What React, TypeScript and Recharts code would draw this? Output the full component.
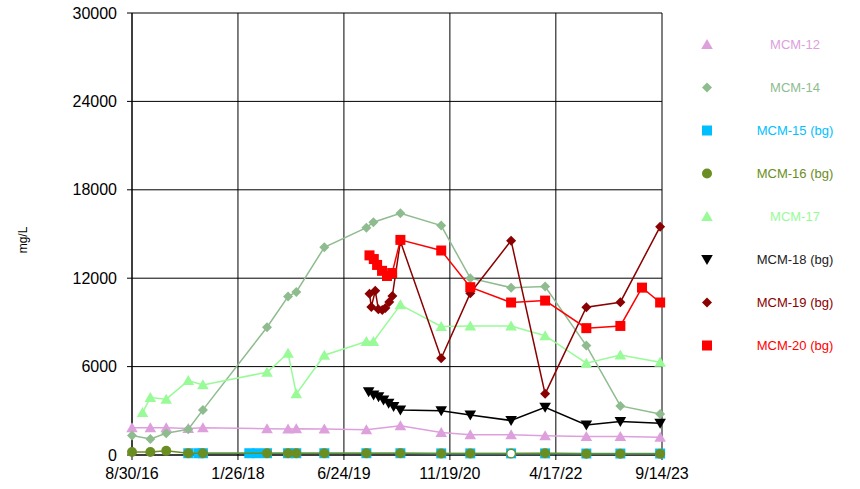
import { ScatterChart, Scatter, XAxis, YAxis, CartesianGrid, Legend } from 'recharts'

const xTickLabels = ['8/30/16', '1/26/18', '6/24/19', '11/19/20', '4/17/22', '9/14/23']
const yTicks = [0, 6000, 12000, 18000, 24000, 30000]

const mcm12Dates = ['8/30/16', '11/27/16', '2/12/17', '5/30/17', '8/9/17', '6/16/18', '9/26/18', '11/5/18', '3/21/19', '10/11/19', '3/24/20', '10/8/20', '2/26/21', '9/12/21', '2/24/22', '9/12/22', '2/24/23', '9/5/23']
const mcm12 = [1850, 1850, 1850, 1800, 1850, 1780, 1760, 1780, 1760, 1720, 1980, 1520, 1370, 1370, 1300, 1250, 1250, 1200]

const mcm14Dates = ['8/30/16', '11/27/16', '2/12/17', '5/30/17', '8/9/17', '6/16/18', '9/26/18', '11/5/18', '3/21/19', '10/11/19', '11/14/19', '3/24/20', '10/8/20', '2/26/21', '9/12/21', '2/24/22', '9/12/22', '2/24/23', '9/5/23']
const mcm14 = [1320, 1090, 1480, 1750, 3060, 8670, 10750, 11070, 14100, 15430, 15800, 16410, 15570, 12000, 11360, 11430, 7430, 3330, 2790]

const mcm15Dates = ['5/30/17', '7/18/17', '8/9/17', '3/22/18', '4/30/18', '6/16/18', '9/26/18', '11/5/18', '3/21/19', '10/11/19', '3/24/20', '10/8/20', '2/26/21', '9/12/21', '2/24/22', '9/12/22', '2/24/23', '9/5/23']
const mcm15 = [120, 120, 120, 120, 120, 120, 120, 120, 120, 120, 120, 110, 110, 110, 110, 100, 100, 100]

const mcm16Dates = ['8/30/16', '11/27/16', '2/12/17', '5/30/17', '8/9/17', '6/16/18', '9/26/18', '11/5/18', '3/21/19', '10/11/19', '3/24/20', '10/8/20', '2/26/21', '9/12/21', '2/24/22', '9/12/22', '2/24/23', '9/5/23']
const mcm16 = [200, 200, 280, 120, 120, 120, 120, 120, 120, 120, 120, 100, 100, 100, 120, 80, 80, 80]
const mcm16OpenDates = ['9/12/21']

const mcm17Dates = ['10/20/16', '11/27/16', '2/12/17', '5/30/17', '8/9/17', '6/16/18', '9/26/18', '11/5/18', '3/21/19', '10/11/19', '11/14/19', '3/24/20', '10/8/20', '2/26/21', '9/12/21', '2/24/22', '9/12/22', '2/24/23', '9/5/23']
const mcm17 = [2880, 3900, 3790, 5050, 4760, 5620, 6910, 4150, 6770, 7700, 7700, 10190, 8720, 8760, 8760, 8100, 6230, 6790, 6300]

const mcm18Dates = ['10/22/19', '11/15/19', '12/9/19', '1/2/20', '1/27/20', '2/20/20', '3/24/20', '10/8/20', '2/26/21', '9/12/21', '2/24/22', '9/12/22', '2/24/23', '9/5/23']
const mcm18 = [4300, 4080, 3960, 3740, 3520, 3290, 3060, 3010, 2720, 2340, 3240, 2040, 2270, 2160]

const mcm19Dates = ['10/26/19', '11/4/19', '11/23/19', '12/8/19', '12/27/19', '1/11/20', '1/30/20', '2/14/20', '3/24/20', '10/8/20', '2/26/21', '9/12/21', '2/24/22', '9/12/22', '2/24/23', '9/5/23']
const mcm19 = [10950, 10050, 11150, 9900, 9850, 9980, 10390, 10800, 14500, 6570, 10980, 14550, 4150, 10030, 10370, 15500]

const mcm20Dates = ['10/26/19', '11/16/19', '12/2/19', '12/26/19', '1/19/20', '2/13/20', '3/24/20', '10/8/20', '2/26/21', '9/12/21', '2/24/22', '9/12/22', '2/24/23', '6/9/23', '9/5/23']
const mcm20 = [13550, 13300, 12900, 12500, 12150, 12350, 14600, 13880, 11390, 10350, 10480, 8610, 8760, 11360, 10350]

// days since the first tick date
function toDay(s: string) {
  const [m, d, y] = s.split('/').map(Number)
  const [m0, d0, y0] = xTickLabels[0].split('/').map(Number)
  return Math.round((Date.UTC(2000 + y, m - 1, d) - Date.UTC(2000 + y0, m0 - 1, d0)) / 86400000)
}

const xTicks = xTickLabels.map(toDay)

type Kind = 'triangle' | 'invTriangle' | 'diamond' | 'square' | 'circle'

function Marker({ kind, cx, cy, color, open }: { kind: Kind; cx: number; cy: number; color: string; open?: boolean }) {
  if (kind === 'triangle')
    return <polygon points={`${cx},${cy - 5.5} ${cx + 5.8},${cy + 4.5} ${cx - 5.8},${cy + 4.5}`} fill={color} />
  if (kind === 'invTriangle')
    return <polygon points={`${cx},${cy + 5.5} ${cx + 5.8},${cy - 4.5} ${cx - 5.8},${cy - 4.5}`} fill={color} />
  if (kind === 'diamond')
    return <polygon points={`${cx},${cy - 5} ${cx + 5},${cy} ${cx},${cy + 5} ${cx - 5},${cy}`} fill={color} />
  if (kind === 'square') return <rect x={cx - 5} y={cy - 5} width={10} height={10} fill={color} />
  if (open) return <circle cx={cx} cy={cy} r={4.3} fill="#fff" stroke={color} strokeWidth={1.3} />
  return <circle cx={cx} cy={cy} r={5} fill={color} />
}

const series: { name: string; color: string; text: string; kind: Kind; dates: string[]; values: number[]; open?: string[] }[] = [
  { name: 'MCM-12', color: '#DDA0DD', text: '#DDA0DD', kind: 'triangle', dates: mcm12Dates, values: mcm12 },
  { name: 'MCM-14', color: '#8FBC8F', text: '#8FBC8F', kind: 'diamond', dates: mcm14Dates, values: mcm14 },
  { name: 'MCM-15 (bg)', color: '#00BFFF', text: '#00BFFF', kind: 'square', dates: mcm15Dates, values: mcm15 },
  { name: 'MCM-16 (bg)', color: '#6B8E23', text: '#6B8E23', kind: 'circle', dates: mcm16Dates, values: mcm16, open: mcm16OpenDates },
  { name: 'MCM-17', color: '#98FB98', text: '#98FB98', kind: 'triangle', dates: mcm17Dates, values: mcm17 },
  { name: 'MCM-18 (bg)', color: '#000000', text: '#222222', kind: 'invTriangle', dates: mcm18Dates, values: mcm18 },
  { name: 'MCM-19 (bg)', color: '#8B0000', text: '#8B0000', kind: 'diamond', dates: mcm19Dates, values: mcm19 },
  { name: 'MCM-20 (bg)', color: '#FF0000', text: '#FF0000', kind: 'square', dates: mcm20Dates, values: mcm20 },
]

function renderLegend() {
  return (
    <svg width={170} height={350}>
      {series.map((s, i) => {
        const y = 21.5 + i * 43
        return (
          <g key={s.name}>
            <Marker kind={s.kind} cx={17} cy={y} color={s.color} />
            <text x={105} y={y} textAnchor="middle" dominantBaseline="central" fontSize={13} fill={s.text}>
              {s.name}
            </text>
          </g>
        )
      })}
    </svg>
  )
}

export default function App() {
  return (
    <div
      style={{
        position: 'absolute',
        left: 0,
        top: 0,
        width: 860,
        height: 489,
        background: '#fff',
        fontFamily: '"Liberation Sans", Arial, sans-serif',
      }}
    >
      <ScatterChart width={860} height={489} margin={{ top: 13, right: 198, bottom: 0, left: 0 }}>
        <CartesianGrid stroke="#000" strokeWidth={1} />
        <XAxis
          type="number"
          dataKey="x"
          domain={[0, xTicks[xTicks.length - 1]]}
          ticks={xTicks}
          interval={0}
          tickFormatter={(v: number) => xTickLabels[xTicks.indexOf(v)] ?? ''}
          tick={{ fill: '#000', fontSize: 16 }}
          tickSize={5}
          tickMargin={8}
          stroke="#000"
          height={34}
        />
        <YAxis
          type="number"
          dataKey="y"
          domain={[0, 30000]}
          ticks={yTicks}
          interval={0}
          width={132}
          tick={{ fill: '#000', fontSize: 16 }}
          tickSize={5}
          tickMargin={10}
          stroke="#000"
          label={{
            content: () => (
              <text x={27} y={240} transform="rotate(-90 27 240)" textAnchor="middle" fontSize={12} fill="#000">
                mg/L
              </text>
            ),
          }}
        />
        <Legend
          layout="vertical"
          align="center"
          verticalAlign="middle"
          content={renderLegend}
          wrapperStyle={{ left: 690, top: 22.5, width: 170, height: 350 }}
        />
        {series.map(s => (
          <Scatter
            key={s.name}
            name={s.name}
            data={s.dates.map((d, i) => ({ x: toDay(d), y: s.values[i], open: s.open?.includes(d) ?? false }))}
            line={{ stroke: s.color, strokeWidth: 1.5 }}
            shape={(p: any) => <Marker kind={s.kind} cx={p.cx} cy={p.cy} color={s.color} open={p.payload?.open} />}
            isAnimationActive={false}
          />
        ))}
      </ScatterChart>
    </div>
  )
}
